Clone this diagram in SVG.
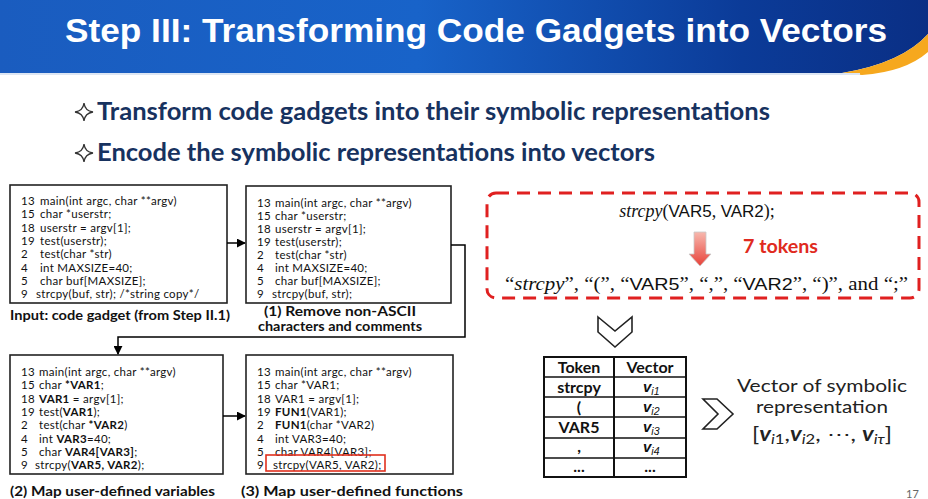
<svg xmlns="http://www.w3.org/2000/svg" width="928" height="499" viewBox="0 0 928 499">
<defs>
<linearGradient id="hdr" x1="0" y1="0" x2="1" y2="0">
<stop offset="0" stop-color="#1a5cbf"/>
<stop offset="0.45" stop-color="#1863c9"/>
<stop offset="0.8" stop-color="#0b3b98"/>
<stop offset="1" stop-color="#0a2f85"/>
</linearGradient>
<linearGradient id="redarrow" x1="0" y1="0" x2="0" y2="1">
<stop offset="0" stop-color="#f7b8ae"/>
<stop offset="1" stop-color="#e8423a"/>
</linearGradient>
<marker id="ah" viewBox="0 0 10 10" refX="9" refY="5" markerWidth="9" markerHeight="9" markerUnits="userSpaceOnUse" orient="auto">
<path d="M0,0 L10,5 L0,10 Z" fill="#000"/>
</marker>
<style>
.code{font-family:Lato,"Liberation Sans",sans-serif;font-size:11.5px;letter-spacing:0.3px;fill:#111}
.b{font-weight:bold}
.cap{font-family:Lato,"Liberation Sans",sans-serif;font-size:13px;font-weight:bold;fill:#111}
.box{fill:#fff;stroke:#222;stroke-width:1.6}
.bul{font-family:Lato,"Liberation Sans",sans-serif;font-size:24px;font-weight:bold;fill:#17325f}
.conn{fill:none;stroke:#000;stroke-width:1.5}
.tb{font-family:Lato,"Liberation Sans",sans-serif;font-size:16px;font-weight:bold;fill:#111}
.vec{font-family:"Liberation Sans",sans-serif;font-weight:bold;font-style:italic;font-size:15px;fill:#111}
.math{font-family:"Liberation Serif",serif;font-size:18px;fill:#111}
.sf{font-family:"Liberation Sans",sans-serif}
.it{font-style:italic}
.res{font-family:Lato,"Liberation Sans",sans-serif;font-size:17.5px;fill:#222}
</style>
</defs>
<rect width="928" height="499" fill="#fff"/>
<g id="header">
<path d="M0,0 H928 V34 Q902,63 842,73 H0 Z" fill="url(#hdr)"/>
<path d="M842,73 Q902,63 928,34 V52 Q905,72 862,75 Z" fill="#f6a81e"/>
<rect x="0" y="73" width="860" height="2" fill="#dde6f3"/>
<text x="65" y="42" font-family="Liberation Sans,Arial,sans-serif" font-size="33" font-weight="bold" fill="#fff" textLength="822" lengthAdjust="spacingAndGlyphs">Step III: Transforming Code Gadgets into Vectors</text>
</g>
<g id="bullets">
<path d="M84,103 Q85,111 93,112 Q85,113 84,121 Q83,113 75,112 Q83,111 84,103 Z" fill="none" stroke="#333" stroke-width="1.3"/>
<text class="bul" x="97" y="120" textLength="673" lengthAdjust="spacingAndGlyphs">Transform code gadgets into their symbolic representations</text>
<path d="M84,144 Q85,152 93,153 Q85,154 84,162 Q83,154 75,153 Q83,152 84,144 Z" fill="none" stroke="#333" stroke-width="1.3"/>
<text class="bul" x="97" y="161" textLength="558" lengthAdjust="spacingAndGlyphs">Encode the symbolic representations into vectors</text>
</g>
<g id="input">
<rect class="box" x="10" y="185" width="217" height="118"/>
<text class="code" x="21" y="205">13</text><text class="code" x="40" y="205">main(int argc, char **argv)</text>
<text class="code" x="21" y="218">15</text><text class="code" x="40" y="218">char *userstr;</text>
<text class="code" x="21" y="232">18</text><text class="code" x="40" y="232">userstr = argv[1];</text>
<text class="code" x="21" y="245">19</text><text class="code" x="40" y="245">test(userstr);</text>
<text class="code" x="21" y="258">2</text><text class="code" x="40" y="258">test(char *str)</text>
<text class="code" x="21" y="272">4</text><text class="code" x="40" y="272">int MAXSIZE=40;</text>
<text class="code" x="21" y="285">5</text><text class="code" x="40" y="285">char buf[MAXSIZE];</text>
<text class="code" x="21" y="298">9</text><text class="code" x="36" y="298">strcpy(buf, str); /*string copy*/</text>
<text class="cap" x="10" y="320" textLength="220" lengthAdjust="spacingAndGlyphs">Input: code gadget (from Step II.1)</text>
</g>
<g id="step1">
<rect class="box" x="246" y="186" width="205" height="117"/>
<text class="code" x="257" y="207">13</text><text class="code" x="275" y="207">main(int argc, char **argv)</text>
<text class="code" x="257" y="220">15</text><text class="code" x="275" y="220">char *userstr;</text>
<text class="code" x="257" y="233">18</text><text class="code" x="275" y="233">userstr = argv[1];</text>
<text class="code" x="257" y="246">19</text><text class="code" x="275" y="246">test(userstr);</text>
<text class="code" x="257" y="259">2</text><text class="code" x="275" y="259">test(char *str)</text>
<text class="code" x="257" y="272">4</text><text class="code" x="275" y="272">int MAXSIZE=40;</text>
<text class="code" x="257" y="285">5</text><text class="code" x="275" y="285">char buf[MAXSIZE];</text>
<text class="code" x="257" y="298">9</text><text class="code" x="272" y="298">strcpy(buf, str);</text>
<text class="cap" x="340" y="316" text-anchor="middle" textLength="152" lengthAdjust="spacingAndGlyphs">(1) Remove non-ASCII</text>
<text class="cap" x="340" y="331" text-anchor="middle" textLength="164" lengthAdjust="spacingAndGlyphs">characters and comments</text>
</g>
<g id="step2">
<rect class="box" x="10" y="355" width="213" height="119"/>
<text class="code" x="21" y="376">13</text><text class="code" x="39" y="376">main(int argc, char **argv)</text>
<text class="code" x="21" y="389">15</text><text class="code" x="39" y="389">char <tspan class="b">*VAR1</tspan>;</text>
<text class="code" x="21" y="403">18</text><text class="code" x="39" y="403"><tspan class="b">VAR1</tspan> = argv[1];</text>
<text class="code" x="21" y="416">19</text><text class="code" x="39" y="416">test(<tspan class="b">VAR1</tspan>);</text>
<text class="code" x="21" y="429">2</text><text class="code" x="39" y="429">test(char <tspan class="b">*VAR2</tspan>)</text>
<text class="code" x="21" y="443">4</text><text class="code" x="39" y="443">int <tspan class="b">VAR3</tspan>=40;</text>
<text class="code" x="21" y="456">5</text><text class="code" x="39" y="456">char <tspan class="b">VAR4[VAR3]</tspan>;</text>
<text class="code" x="21" y="469">9</text><text class="code" x="35" y="469">strcpy(<tspan class="b">VAR5, VAR2</tspan>);</text>
<text class="cap" x="10" y="496" textLength="205" lengthAdjust="spacingAndGlyphs">(2) Map user-defined variables</text>
</g>
<g id="step3">
<rect class="box" x="246" y="355" width="207" height="119"/>
<text class="code" x="257" y="376">13</text><text class="code" x="275" y="376">main(int argc, char **argv)</text>
<text class="code" x="257" y="389">15</text><text class="code" x="275" y="389">char *VAR1;</text>
<text class="code" x="257" y="403">18</text><text class="code" x="275" y="403">VAR1 = argv[1];</text>
<text class="code" x="257" y="416">19</text><text class="code" x="275" y="416"><tspan class="b">FUN1</tspan>(VAR1);</text>
<text class="code" x="257" y="429">2</text><text class="code" x="275" y="429"><tspan class="b">FUN1</tspan>(char *VAR2)</text>
<text class="code" x="257" y="443">4</text><text class="code" x="275" y="443">int VAR3=40;</text>
<text class="code" x="257" y="456">5</text><text class="code" x="275" y="456">char VAR4[VAR3];</text>
<text class="code" x="257" y="469">9</text><text class="code" x="273" y="469">strcpy(VAR5, VAR2);</text>
<rect x="266" y="455" width="119" height="16" fill="none" stroke="#e0301e" stroke-width="1.6"/>
<text class="cap" x="352" y="496" text-anchor="middle" textLength="222" lengthAdjust="spacingAndGlyphs">(3) Map user-defined functions</text>
</g>
<g id="tokens">
<rect x="487" y="193" width="432" height="105" rx="9" fill="none" stroke="#e02020" stroke-width="3" stroke-dasharray="13,8"/>
<text class="math" x="697" y="217" text-anchor="middle"><tspan class="it">strcpy</tspan>(<tspan class="sf" font-size="17">VAR5</tspan>, <tspan class="sf" font-size="17">VAR2</tspan>);</text>
<text x="743" y="253" font-family="Lato,'Liberation Sans',sans-serif" font-size="18" font-weight="bold" fill="#e02a20" textLength="75" lengthAdjust="spacingAndGlyphs">7 tokens</text>
<text class="math" x="505" y="290" textLength="403" lengthAdjust="spacingAndGlyphs">“<tspan class="it">strcpy</tspan>”, “(”, “<tspan class="sf" font-size="17">VAR5</tspan>”, “,”, “<tspan class="sf" font-size="17">VAR2</tspan>”, “)”, and “;”</text>
</g>
<g id="table">
<rect x="544" y="357" width="142" height="120" fill="#fff" stroke="#111" stroke-width="2"/>
<line x1="614" y1="357" x2="614" y2="477" stroke="#111" stroke-width="2"/>
<g stroke="#111" stroke-width="1.6">
<line x1="544" y1="377" x2="686" y2="377"/>
<line x1="544" y1="397" x2="686" y2="397"/>
<line x1="544" y1="417" x2="686" y2="417"/>
<line x1="544" y1="438" x2="686" y2="438"/>
<line x1="544" y1="458" x2="686" y2="458"/>
</g>
<text class="tb" x="579" y="373" text-anchor="middle">Token</text>
<text class="tb" x="650" y="373" text-anchor="middle">Vector</text>
<text class="tb" x="579" y="393" text-anchor="middle">strcpy</text>
<text class="tb" x="579" y="413" text-anchor="middle">(</text>
<text class="tb" x="579" y="433" text-anchor="middle">VAR5</text>
<text class="tb" x="579" y="452" text-anchor="middle">,</text>
<text class="tb" x="579" y="472" text-anchor="middle">...</text>
<text class="vec" x="643" y="392">v<tspan font-size="10.5" dy="3" font-weight="normal">i1</tspan></text>
<text class="vec" x="643" y="412">v<tspan font-size="10.5" dy="3" font-weight="normal">i2</tspan></text>
<text class="vec" x="643" y="432">v<tspan font-size="10.5" dy="3" font-weight="normal">i3</tspan></text>
<text class="vec" x="643" y="452">v<tspan font-size="10.5" dy="3" font-weight="normal">i4</tspan></text>
<text class="tb" x="650" y="472" text-anchor="middle">...</text>
</g>
<g id="result">
<text class="res" x="822" y="392" text-anchor="middle" textLength="170" lengthAdjust="spacingAndGlyphs">Vector of symbolic</text>
<text class="res" x="822" y="413" text-anchor="middle" textLength="132" lengthAdjust="spacingAndGlyphs">representation</text>
<text x="752" y="441" font-family="Lato,'Liberation Sans',sans-serif" font-size="20" fill="#222" textLength="140" lengthAdjust="spacingAndGlyphs">[<tspan font-weight="bold" font-style="italic">v</tspan><tspan font-size="14" font-style="italic" dy="3">i</tspan><tspan font-size="14">1</tspan><tspan dy="-3">,</tspan><tspan font-weight="bold" font-style="italic">v</tspan><tspan font-size="14" font-style="italic" dy="3">i</tspan><tspan font-size="14">2</tspan><tspan dy="-3">, ⋯, </tspan><tspan font-weight="bold" font-style="italic">v</tspan><tspan font-size="14" font-style="italic" dy="3">iτ</tspan><tspan dy="-3">]</tspan></text>
</g>
<text x="906" y="498" font-family="Lato,'Liberation Sans',sans-serif" font-size="11" fill="#666">17</text>
<g id="connectors">
<line class="conn" x1="227" y1="243" x2="245" y2="243" marker-end="url(#ah)"/>
<polyline class="conn" points="451,245 465,245 465,337 118,337 118,354" marker-end="url(#ah)"/>
<line class="conn" x1="223" y1="416" x2="245" y2="416" marker-end="url(#ah)"/>
<path d="M694,232 H706 V254 H711 L700,266 L689,254 H694 Z" fill="url(#redarrow)" stroke="#c9c9c9" stroke-width="0.8"/>
<path d="M598,317 L615,331 L632,317 L632,332 L615,347 L598,332 Z" fill="#fff" stroke="#222" stroke-width="1.6"/>
<path d="M703,399 L717,399 L733,414 L717,429 L703,429 L718,414 Z" fill="#fff" stroke="#222" stroke-width="1.6"/>
</g>
</svg>
